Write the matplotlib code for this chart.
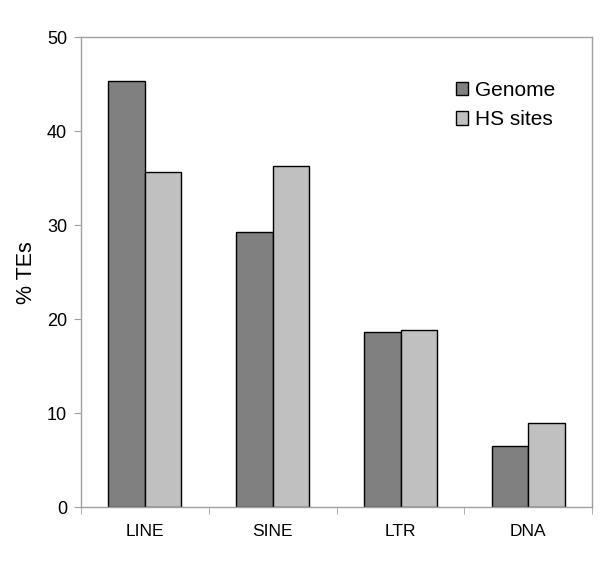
import numpy as np
import matplotlib.pyplot as plt

plt.rcParams['font.family'] = ['Liberation Sans', 'DejaVu Sans']

# data
categories = ['LINE', 'SINE', 'LTR', 'DNA']
genome = [45.3, 29.3, 18.6, 6.5]
hs_sites = [35.7, 36.3, 18.8, 9.0]
yticks = [0, 10, 20, 30, 40, 50]

fig = plt.figure(figsize=(6, 5.73), dpi=100)
ax = fig.add_axes([0.135, 0.115, 0.852, 0.82])

x = np.arange(len(categories)) + 0.5
w = 1 / 3.5
ax.bar(x - w / 2, genome, w, color='#808080', edgecolor='black', linewidth=1, label='Genome')
ax.bar(x + w / 2, hs_sites, w, color='#c0c0c0', edgecolor='black', linewidth=1, label='HS sites')

ax.set_xlim(0, len(categories))
ax.set_ylim(0, 50)
ax.set_yticks(yticks)
ax.set_yticklabels([str(t) for t in yticks], fontsize=13)

# labels at centres, tick marks at boundaries
ax.set_xticks(x)
ax.set_xticklabels(categories, fontsize=12.5)
ax.tick_params(axis='x', which='major', length=0, pad=12)
ax.set_xticks(np.arange(len(categories) + 1), minor=True)
ax.tick_params(axis='x', which='minor', length=5, color='#a0a0a0', direction='out')
ax.tick_params(axis='y', length=5, color='#a0a0a0', direction='out', pad=5)

for s in ax.spines.values():
    s.set_color('#a0a0a0')
    s.set_linewidth(1)

ax.set_ylabel('% TEs', fontsize=15.5, labelpad=7)

ax.legend(loc='upper right', frameon=False, fontsize=15, handlelength=0.6,
          handleheight=0.6, handletextpad=0.35, labelspacing=0.5,
          bbox_to_anchor=(0.965, 0.947))

fig.savefig('out.png', dpi=100)
